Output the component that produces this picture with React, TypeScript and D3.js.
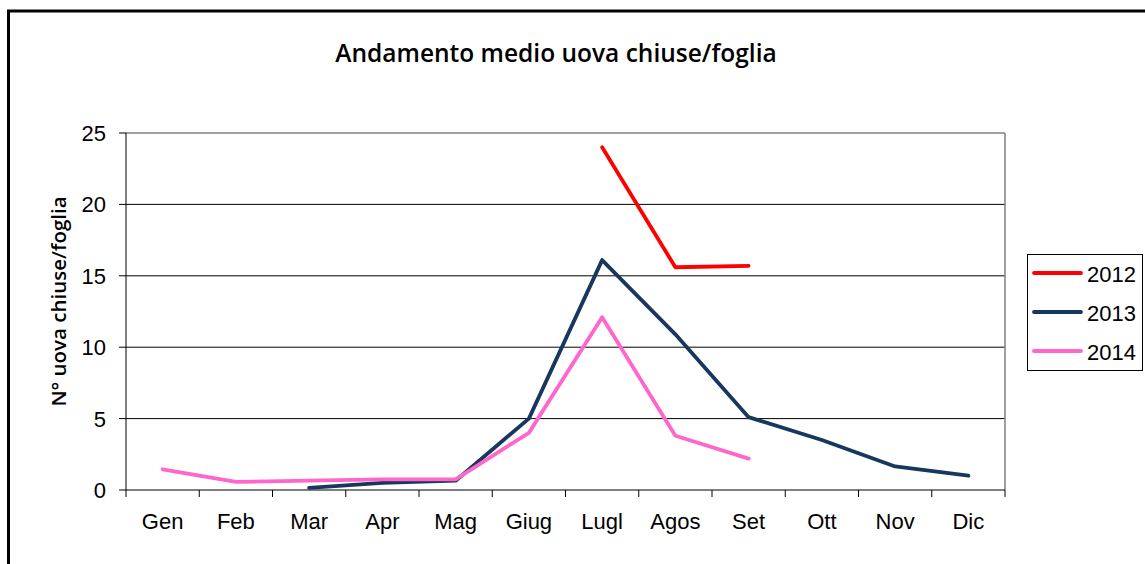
import { scaleBand, scaleLinear, line } from "d3";

const months = ["Gen", "Feb", "Mar", "Apr", "Mag", "Giug", "Lugl", "Agos", "Set", "Ott", "Nov", "Dic"];
const yTicks = [0, 5, 10, 15, 20, 25];

// null = no data for that month
const values2012 = [null, null, null, null, null, null, 24.0, 15.6, 15.7, null, null, null];
const values2013 = [null, null, 0.15, 0.5, 0.65, 5.0, 16.1, 10.9, 5.1, 3.5, 1.65, 1.0];
const values2014 = [1.45, 0.57, 0.65, 0.75, 0.75, 4.0, 12.1, 3.8, 2.2, null, null, null];

const series = [
  { name: "2012", values: values2012, color: "#FF0000" },
  { name: "2013", values: values2013, color: "#17375E" },
  { name: "2014", values: values2014, color: "#FF66CC" },
];

const width = 1145;
const height = 564;
const plot = { left: 126, right: 1005, top: 133, bottom: 490 };
const axisFont = { fontFamily: "Liberation Sans", fontSize: 22 };

const App = () => {
  const x = scaleBand().domain(months).range([plot.left, plot.right]);
  const y = scaleLinear().domain([0, 25]).range([plot.bottom, plot.top]);

  const lineGen = line<number | null>()
    .defined((d) => d !== null)
    .x((_, i) => (x(months[i]) as number) + x.bandwidth() / 2)
    .y((d) => y(d as number));

  const boundaries = months.map((m) => x(m) as number).concat([plot.right]);

  return (
    <svg
      width={width}
      height={height}
      style={{ position: "absolute", left: 0, top: 0, background: "#fff" }}
    >
      {/* outer frame */}
      <rect x={8.5} y={11} width={1200} height={600} fill="none" stroke="#000" strokeWidth={3} />

      <text
        x={556}
        y={62}
        textAnchor="middle"
        style={{ fontFamily: "Open Sans", fontSize: 24.5, fontWeight: 600 }}
      >
        Andamento medio uova chiuse/foglia
      </text>

      {/* gridlines */}
      {yTicks.slice(1, -1).map((t) => (
        <line key={t} x1={plot.left} x2={plot.right} y1={y(t)} y2={y(t)} stroke="#000" strokeWidth={1} />
      ))}
      <line x1={plot.left} x2={plot.right} y1={y(25)} y2={y(25)} stroke="#808080" strokeWidth={1.5} />
      <line x1={plot.right} x2={plot.right} y1={plot.top} y2={plot.bottom} stroke="#808080" strokeWidth={1.5} />

      {/* y axis */}
      <line x1={plot.left} x2={plot.left} y1={plot.top} y2={plot.bottom} stroke="#000" strokeWidth={1} />
      {yTicks.map((t) => (
        <g key={t}>
          <line x1={plot.left - 7} x2={plot.left} y1={y(t)} y2={y(t)} stroke="#000" />
          <text x={plot.left - 20} y={y(t)} dy="0.36em" textAnchor="end" style={axisFont}>
            {t}
          </text>
        </g>
      ))}
      <text
        transform={`translate(66,${(plot.top + plot.bottom) / 2 - 10}) rotate(-90)`}
        textAnchor="middle"
        style={{ fontFamily: "Open Sans", fontSize: 20.5, fontWeight: 600 }}
      >
        N° uova chiuse/foglia
      </text>

      {/* x axis */}
      <line x1={plot.left} x2={plot.right} y1={plot.bottom} y2={plot.bottom} stroke="#000" strokeWidth={1} />
      {boundaries.map((b, i) => (
        <line key={i} x1={b} x2={b} y1={plot.bottom} y2={plot.bottom + 7} stroke="#000" />
      ))}
      {months.map((m) => (
        <text
          key={m}
          x={(x(m) as number) + x.bandwidth() / 2}
          y={plot.bottom + 39}
          textAnchor="middle"
          style={axisFont}
        >
          {m}
        </text>
      ))}

      {/* lines */}
      {series.map((s) => (
        <path
          key={s.name}
          d={lineGen(s.values) || ""}
          fill="none"
          stroke={s.color}
          strokeWidth={3.8}
          strokeLinejoin="round"
          strokeLinecap="round"
        />
      ))}

      {/* legend */}
      <rect x={1027.5} y={254.5} width={115} height={116} fill="#fff" stroke="#000" strokeWidth={1} />
      {series.map((s, i) => (
        <g key={s.name} transform={`translate(0,${273 + i * 39})`}>
          <line x1={1034} x2={1081} y1={0} y2={0} stroke={s.color} strokeWidth={3.8} strokeLinecap="round" />
          <text x={1087} y={1} dy="0.36em" style={axisFont}>
            {s.name}
          </text>
        </g>
      ))}
    </svg>
  );
};

export default App;
